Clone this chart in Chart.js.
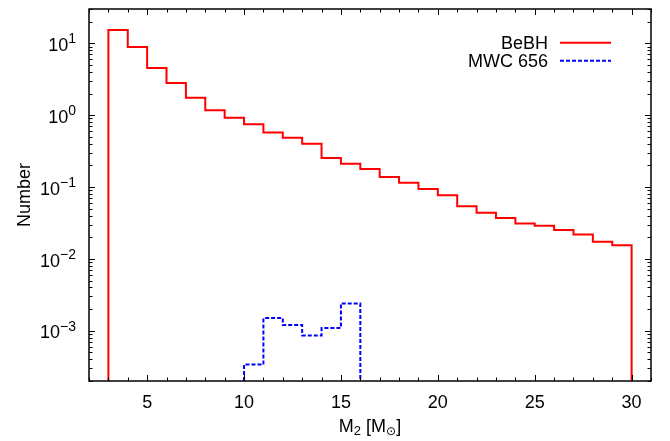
<!DOCTYPE html>
<html>
<head>
<meta charset="utf-8">
<script src="https://cdn.jsdelivr.net/npm/chart.js@4"></script>
<style>
  body { margin: 0; background: #fff; }
  canvas { display: block; }
</style>
</head>
<body>
<canvas id="hist" width="670" height="441"></canvas>
<script>
// bin edges (M2 in Msun) and counts per bin
const bebhEdges = [3, 4, 5, 6, 7, 8, 9, 10, 11, 12, 13, 14, 15, 16, 17, 18, 19, 20, 21, 22, 23, 24, 25, 26, 27, 28, 29, 30];
const bebhCounts = [15.3, 8.9, 4.54, 2.81, 1.74, 1.17, 0.92, 0.75, 0.575, 0.485, 0.40, 0.254, 0.21, 0.178,
    0.138, 0.115, 0.094, 0.077, 0.054, 0.044, 0.037, 0.031, 0.029, 0.0253, 0.0218, 0.0173, 0.0155];
const mwcEdges = [10, 11, 12, 13, 14, 15, 16];
const mwcCounts = [3.4e-4, 1.5e-3, 1.2e-3, 8.6e-4, 1.09e-3, 2.4e-3];

const xTicks = [5, 10, 15, 20, 25, 30];
const yDecades = [1, 0, -1, -2, -3];
const seriesNames = ["BeBH", "MWC 656"];

const X_MIN = 2, X_MAX = 31, Y_MIN = 2e-4, Y_MAX = 30;
const FONT = '"Liberation Sans", Arial, "DejaVu Sans", sans-serif';

// turn edges + counts into a gnuplot-style "histeps" outline
const histPoints = (edges, counts) => {
    const pts = [{ x: edges[0], y: Y_MIN }];
    counts.forEach((c, i) => {
        pts.push({ x: edges[i], y: c }, { x: edges[i + 1], y: c });
    });
    pts.push({ x: edges[edges.length - 1], y: Y_MIN });
    return pts;
};

const gnuplotFrame = {
    id: 'gnuplotFrame',
    afterDatasetsDraw(chart) {
        const { ctx, chartArea: a, scales: { x, y } } = chart;
        ctx.save();
        ctx.strokeStyle = '#000';
        ctx.lineWidth = 1;

        // minor + major ticks, pointing inward, on all four sides
        ctx.beginPath();
        for (let v = Math.ceil(X_MIN); v <= X_MAX; v++) {
            const px = Math.round(x.getPixelForValue(v)) + 0.5;
            const len = v % 5 === 0 ? 6 : 3.5;
            ctx.moveTo(px, a.bottom); ctx.lineTo(px, a.bottom - len);
            ctx.moveTo(px, a.top); ctx.lineTo(px, a.top + len);
        }
        for (let d = -4; d <= 1; d++) {
            for (let m = 1; m <= 9; m++) {
                const v = m * Math.pow(10, d);
                if (v < Y_MIN || v > Y_MAX) continue;
                const py = Math.round(y.getPixelForValue(v)) + 0.5;
                const len = m === 1 ? 6 : 3.5;
                ctx.moveTo(a.left, py); ctx.lineTo(a.left + len, py);
                ctx.moveTo(a.right, py); ctx.lineTo(a.right - len, py);
            }
        }
        ctx.stroke();

        // frame
        ctx.lineWidth = 1.5;
        ctx.strokeRect(a.left, a.top, a.right - a.left, a.bottom - a.top);

        ctx.fillStyle = '#000';
        // x tick labels
        ctx.font = `18px ${FONT}`;
        ctx.textAlign = 'center';
        ctx.textBaseline = 'alphabetic';
        xTicks.forEach(v => ctx.fillText(String(v), x.getPixelForValue(v), 407.5));

        // y tick labels 10^d
        const labelRight = 76;
        yDecades.forEach(d => {
            const py = y.getPixelForValue(Math.pow(10, d));
            const sup = d < 0 ? '\u2212' + Math.abs(d) : String(d);
            ctx.font = `14px ${FONT}`;
            const supW = ctx.measureText(sup).width;
            ctx.font = `18px ${FONT}`;
            const baseW = ctx.measureText('10').width;
            ctx.textAlign = 'left';
            ctx.fillText('10', labelRight - supW - baseW, py + 7.7);
            ctx.font = `14px ${FONT}`;
            ctx.fillText(sup, labelRight - supW, py);
        });

        // y title
        ctx.save();
        ctx.translate(30, (a.top + a.bottom) / 2);
        ctx.rotate(-Math.PI / 2);
        ctx.font = `18px ${FONT}`;
        ctx.textAlign = 'center';
        ctx.fillText('Number', 0, 0);
        ctx.restore();

        // x title: M_2 [M_sun]
        const parts = [
            ['M', 18, 0], ['2', 13, 3.5], [' [M', 18, 0], ['\u2299', 12, 3.5], [']', 18, 0]
        ];
        let total = 0;
        parts.forEach(([t, s]) => { ctx.font = `${s}px ${FONT}`; total += ctx.measureText(t).width; });
        let cx = (a.left + a.right) / 2 - total / 2;
        ctx.textAlign = 'left';
        parts.forEach(([t, s, dy]) => {
            ctx.font = `${s}px ${FONT}`;
            ctx.fillText(t, cx, 431.5 + dy);
            cx += ctx.measureText(t).width;
        });

        // key, gnuplot style: text then sample line
        ctx.font = `18px ${FONT}`;
        ctx.textAlign = 'right';
        const keyY = [42.7, 60.7];
        chart.data.datasets.forEach((ds, i) => {
            ctx.fillStyle = '#000';
            ctx.fillText(ds.label, 548, keyY[i] + 6);
            ctx.strokeStyle = ds.borderColor;
            ctx.lineWidth = ds.borderWidth;
            ctx.setLineDash(ds.borderDash || []);
            ctx.beginPath();
            ctx.moveTo(560, keyY[i]);
            ctx.lineTo(611, keyY[i]);
            ctx.stroke();
        });
        ctx.restore();
    }
};

new Chart(document.getElementById('hist'), {
    type: 'line',
    data: {
        datasets: [
            {
                label: seriesNames[0],
                data: histPoints(bebhEdges, bebhCounts),
                borderColor: '#ff0000',
                borderWidth: 2,
            },
            {
                label: seriesNames[1],
                data: histPoints(mwcEdges, mwcCounts),
                borderColor: '#0000ff',
                borderWidth: 2,
                borderDash: [4, 2],
            }
        ]
    },
    options: {
        responsive: false,
        animation: false,
        layout: { padding: { left: 89, top: 9, right: 19, bottom: 60 } },
        elements: {
            point: { radius: 0 },
            line: { tension: 0, borderJoinStyle: 'miter', fill: false }
        },
        plugins: { legend: { display: false }, tooltip: { enabled: false } },
        scales: {
            x: { type: 'linear', min: X_MIN, max: X_MAX, display: false },
            y: { type: 'logarithmic', min: Y_MIN, max: Y_MAX, display: false }
        }
    },
    plugins: [gnuplotFrame]
});
</script>
</body>
</html>
